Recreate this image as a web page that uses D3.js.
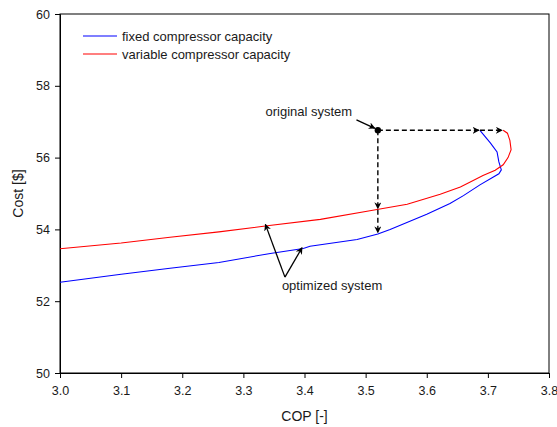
<!DOCTYPE html>
<html>
<head>
<meta charset="utf-8">
<script src="https://cdn.jsdelivr.net/npm/d3@7"></script>
<style>
  body { margin: 0; background: #fff; }
  text { font-family: "Liberation Sans", Arial, sans-serif; fill: #1a1a1a; }
</style>
</head>
<body>
<div id="chart"></div>
<script>
// values
var fixedCop  = [3.00, 3.10, 3.18, 3.26, 3.344, 3.398, 3.409, 3.486, 3.52, 3.54, 3.60, 3.638, 3.66, 3.687, 3.709, 3.718, 3.722, 3.718, 3.715, 3.704, 3.687];
var fixedCost = [52.53, 52.75, 52.92, 53.08, 53.33, 53.47, 53.53, 53.72, 53.87, 54.00, 54.42, 54.72, 54.94, 55.24, 55.46, 55.55, 55.66, 55.88, 56.16, 56.41, 56.76];

var varCop  = [3.00, 3.10, 3.18, 3.26, 3.339, 3.426, 3.507, 3.568, 3.622, 3.655, 3.676, 3.692, 3.712, 3.725, 3.733, 3.738, 3.736, 3.732, 3.725];
var varCost = [53.46, 53.62, 53.78, 53.93, 54.10, 54.28, 54.52, 54.70, 54.98, 55.18, 55.36, 55.50, 55.65, 55.80, 56.00, 56.22, 56.48, 56.68, 56.76];

var seriesNames = ["fixed compressor capacity", "variable compressor capacity"];
var seriesColors = ["#0000ff", "#ff0000"];

var xTicks = [3.0, 3.1, 3.2, 3.3, 3.4, 3.5, 3.6, 3.7, 3.8];
var yTicks = [50, 52, 54, 56, 58, 60];

var original = {cop: 3.52, cost: 56.76};
var optimizedRed = 54.55, optimizedBlue = 53.88;

var margin = {top: 14, right: 8, bottom: 54, left: 60},
    outerWidth = 557,
    outerHeight = 427,
    width = outerWidth - margin.left - margin.right,
    height = outerHeight - margin.top - margin.bottom;

var x = d3.scaleLinear().domain([3.0, 3.8]).range([0, width]);
var y = d3.scaleLinear().domain([50, 60]).range([height, 0]);

var svg = d3.select("#chart").append("svg")
    .attr("width", outerWidth)
    .attr("height", outerHeight)
    .style("overflow", "visible");

var defs = svg.append("defs");
defs.append("marker")
    .attr("id", "arr")
    .attr("viewBox", "0 0 10 10")
    .attr("refX", 9).attr("refY", 5)
    .attr("markerWidth", 7).attr("markerHeight", 7)
    .attr("markerUnits", "userSpaceOnUse")
    .attr("orient", "auto")
  .append("path")
    .attr("d", "M0,0 L10,5 L0,10 L3,5 z")
    .attr("fill", "#000");

var g = svg.append("g")
    .attr("transform", "translate(" + margin.left + "," + margin.top + ")");

// frame
g.append("rect")
    .attr("width", width).attr("height", height)
    .attr("fill", "none").attr("stroke", "#000").attr("stroke-width", 1);

var xAxis = g.append("g")
    .attr("transform", "translate(0," + height + ")")
    .call(d3.axisBottom(x).tickValues(xTicks).tickFormat(d3.format(".1f")).tickSize(5).tickPadding(8));
var yAxis = g.append("g")
    .call(d3.axisLeft(y).tickValues(yTicks).tickFormat(d3.format("d")).tickSize(5).tickPadding(5));

[xAxis, yAxis].forEach(function(a) {
    a.selectAll("path, line").attr("stroke", "#000");
    a.selectAll("text").style("font-size", "12.5px").attr("fill", "#1a1a1a")
        .style("font-family", '"Liberation Sans", Arial, sans-serif');
});

g.append("text")
    .attr("x", width / 2).attr("y", height + 48)
    .attr("text-anchor", "middle")
    .style("font-size", "14px")
    .text("COP [-]");

g.append("text")
    .attr("transform", "translate(-37," + (height / 2) + ") rotate(-90)")
    .attr("text-anchor", "middle")
    .style("font-size", "14px")
    .text("Cost [$]");

var line = d3.line()
    .x(function(d) { return x(d[0]); })
    .y(function(d) { return y(d[1]); });

var series = [d3.zip(fixedCop, fixedCost), d3.zip(varCop, varCost)];

g.selectAll(".curve")
    .data(series)
    .enter().append("path")
    .attr("class", "curve")
    .attr("d", line)
    .attr("fill", "none")
    .attr("stroke", function(d, i) { return seriesColors[i]; })
    .attr("stroke-width", 1.1);

// legend
seriesNames.forEach(function(name, i) {
    var ly = 22 + i * 18;
    g.append("line")
        .attr("x1", 23).attr("x2", 57)
        .attr("y1", ly).attr("y2", ly)
        .attr("stroke", seriesColors[i])
        .attr("stroke-width", 1.1);
    g.append("text")
        .attr("x", 62).attr("y", ly + 4.5)
        .style("font-size", "13px")
        .text(name);
});

// annotations
var ox = x(original.cop), oy = y(original.cost);

function dashedArrow(x1, y1, x2, y2) {
    g.append("line")
        .attr("x1", x1).attr("y1", y1).attr("x2", x2).attr("y2", y2)
        .attr("stroke", "#000").attr("stroke-width", 1.4)
        .attr("stroke-dasharray", "5,3")
        .attr("marker-end", "url(#arr)");
}
// horizontal: to blue end, then to red end
dashedArrow(ox, oy, x(fixedCop[fixedCop.length - 1]) - 1, oy);
dashedArrow(x(fixedCop[fixedCop.length - 1]), oy, x(varCop[varCop.length - 1]) - 1, oy);
// vertical: to red, then to blue
dashedArrow(ox, oy, ox, y(optimizedRed) - 1);
dashedArrow(ox, y(optimizedRed), ox, y(optimizedBlue) - 1);

g.append("circle")
    .attr("cx", ox).attr("cy", oy).attr("r", 3.2)
    .attr("fill", "#000");

g.append("text")
    .attr("x", x(3.478)).attr("y", y(57.15))
    .attr("text-anchor", "end")
    .style("font-size", "13px")
    .text("original system");

g.append("line")
    .attr("x1", x(3.485)).attr("y1", y(57.05))
    .attr("x2", ox - 3).attr("y2", oy - 2)
    .attr("stroke", "#000").attr("stroke-width", 1.3)
    .attr("marker-end", "url(#arr)");

var apex = {cop: 3.368, cost: 52.67};
[[3.336, 54.14], [3.396, 53.49]].forEach(function(p) {
    g.append("line")
        .attr("x1", x(apex.cop)).attr("y1", y(apex.cost))
        .attr("x2", x(p[0])).attr("y2", y(p[1]))
        .attr("stroke", "#000").attr("stroke-width", 1.3)
        .attr("marker-end", "url(#arr)");
});

g.append("text")
    .attr("x", x(3.363)).attr("y", y(52.32))
    .style("font-size", "13px")
    .text("optimized system");
</script>
</body>
</html>
